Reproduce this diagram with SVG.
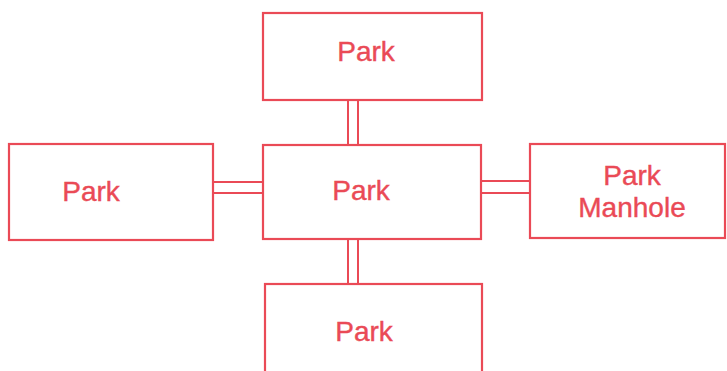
<svg xmlns="http://www.w3.org/2000/svg" width="727" height="371" viewBox="0 0 727 371">
<style>
.box{fill:#fff;stroke:#ea4a56;stroke-width:2.2}
.ln{stroke:#ea4a56;stroke-width:2;fill:none}
text{font-family:"Liberation Sans",Arial,sans-serif;font-size:28px;fill:#ea4a56;stroke:#ea4a56;stroke-width:0.4;text-anchor:middle}
</style>
<rect width="727" height="371" fill="#fff"/>
<g id="connectors">
<line class="ln" x1="348" y1="100" x2="348" y2="145"/>
<line class="ln" x1="358" y1="100" x2="358" y2="145"/>
<line class="ln" x1="348" y1="239" x2="348" y2="284"/>
<line class="ln" x1="358" y1="239" x2="358" y2="284"/>
<line class="ln" x1="213" y1="182" x2="263" y2="182"/>
<line class="ln" x1="213" y1="193" x2="263" y2="193"/>
<line class="ln" x1="481" y1="181" x2="530" y2="181"/>
<line class="ln" x1="481" y1="193" x2="530" y2="193"/>
</g>
<g id="top"><rect class="box" x="263" y="13" width="219" height="87"/><text x="366" y="61">Park</text></g>
<g id="center"><rect class="box" x="263" y="145" width="218" height="94"/><text x="361" y="200">Park</text></g>
<g id="left"><rect class="box" x="9" y="144" width="204" height="96"/><text x="91" y="201">Park</text></g>
<g id="right"><rect class="box" x="530" y="144" width="195" height="94"/><text x="632" y="185">Park</text><text x="632" y="217">Manhole</text></g>
<g id="bottom"><rect class="box" x="265" y="284" width="217" height="95"/><text x="364" y="341">Park</text></g>
</svg>
